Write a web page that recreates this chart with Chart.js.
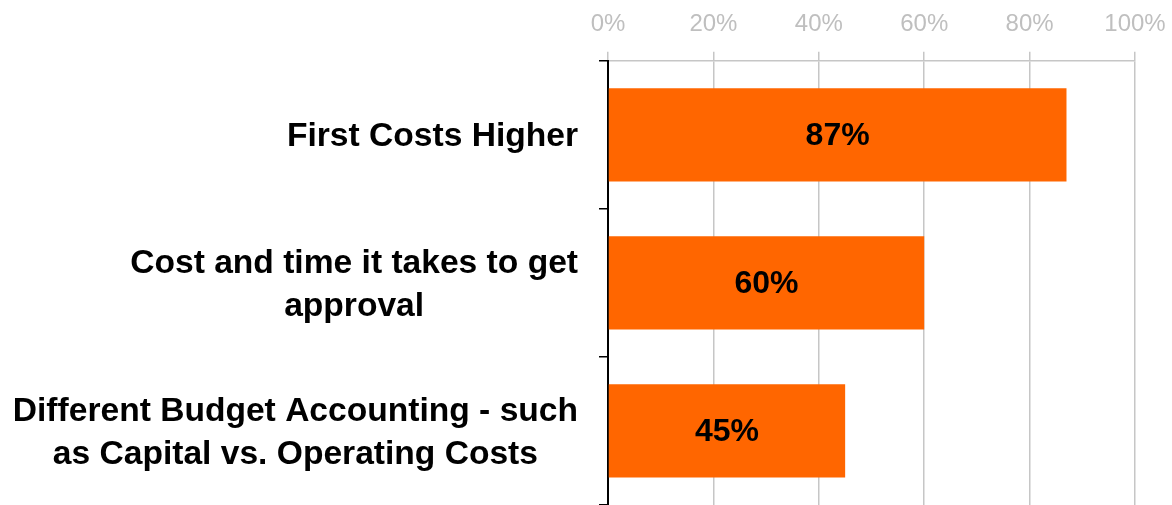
<!DOCTYPE html>
<html>
<head>
<meta charset="utf-8">
<script src="https://cdn.jsdelivr.net/npm/chart.js@4.4.1/dist/chart.umd.min.js"></script>
<style>
    html, body { margin: 0; padding: 0; background: #fff; }
    #wrap { width: 1172px; height: 505px; }
</style>
</head>
<body>
<div id="wrap"><canvas id="chart-barriers"></canvas></div>
<script>
const categories = [
    ['First Costs Higher'],
    ['Cost and time it takes to get', 'approval'],
    ['Different Budget Accounting - such', 'as Capital vs. Operating Costs']
];
const percentValues = [87, 60, 45];
const tickValues = [0, 20, 40, 60, 80, 100];

const FONT = '"Liberation Sans", Arial, sans-serif';

// y labels: block right aligned, lines centred on each other
const categoryLabelsPlugin = {
    id: 'categoryLabels',
    afterDraw(chart) {
        const ctx = chart.ctx;
        const yScale = chart.scales.y;
        const right = yScale.right - 30;
        const lineH = 43;
        ctx.save();
        ctx.font = 'bold 33.6px ' + FONT;
        ctx.fillStyle = '#000';
        ctx.textAlign = 'center';
        ctx.textBaseline = 'middle';
        categories.forEach(function (lines, i) {
            const y = yScale.getPixelForTick(i) + 2;
            let maxW = 0;
            lines.forEach(function (l) { maxW = Math.max(maxW, ctx.measureText(l).width); });
            const cx = right - maxW / 2;
            lines.forEach(function (l, j) {
                ctx.fillText(l, cx, y + (j - (lines.length - 1) / 2) * lineH);
            });
        });
        ctx.restore();
    }
};

const valueLabelsPlugin = {
    id: 'valueLabels',
    afterDatasetsDraw(chart) {
        const ctx = chart.ctx;
        const meta = chart.getDatasetMeta(0);
        ctx.save();
        ctx.font = 'bold 32px ' + FONT;
        ctx.fillStyle = '#000';
        ctx.textAlign = 'center';
        ctx.textBaseline = 'middle';
        meta.data.forEach(function (bar, i) {
            ctx.fillText(percentValues[i] + '%', (bar.base + bar.x) / 2, bar.y + 1);
        });
        ctx.restore();
    }
};

new Chart(document.getElementById('chart-barriers'), {
    type: 'bar',
    data: {
        labels: categories.map(l => l.join(' ')),
        datasets: [{
            data: percentValues,
            backgroundColor: '#FF6600',
            borderWidth: 0,
            categoryPercentage: 1,
            barPercentage: 0.63
        }]
    },
    options: {
        indexAxis: 'y',
        responsive: true,
        maintainAspectRatio: false,
        animation: false,
        layout: {
            padding: { top: -3, right: 37, bottom: 0, left: 0 }
        },
        scales: {
            x: {
                position: 'top',
                min: 0,
                max: 100,
                afterBuildTicks(scale) {
                    scale.ticks = tickValues.map(v => ({ value: v }));
                },
                afterFit(scale) {
                    scale.paddingRight = 0;
                    scale.paddingLeft = 0;
                },
                ticks: {
                    color: '#BFBFBF',
                    font: { family: FONT, size: 24 },
                    padding: 13,
                    maxRotation: 0,
                    callback: v => v + '%'
                },
                grid: {
                    color: '#C6C6C6',
                    lineWidth: 1.5,
                    tickLength: 9
                },
                border: { color: '#C6C6C6', width: 1.5 }
            },
            y: {
                afterFit(scale) {
                    scale.width = 608;
                },
                ticks: { display: false },
                grid: {
                    offset: true,
                    drawOnChartArea: false,
                    color: '#000',
                    lineWidth: 1.5,
                    tickLength: 9
                },
                border: { color: '#000', width: 2 }
            }
        },
        plugins: {
            legend: { display: false },
            tooltip: { enabled: false }
        }
    },
    plugins: [categoryLabelsPlugin, valueLabelsPlugin]
});
</script>
</body>
</html>
